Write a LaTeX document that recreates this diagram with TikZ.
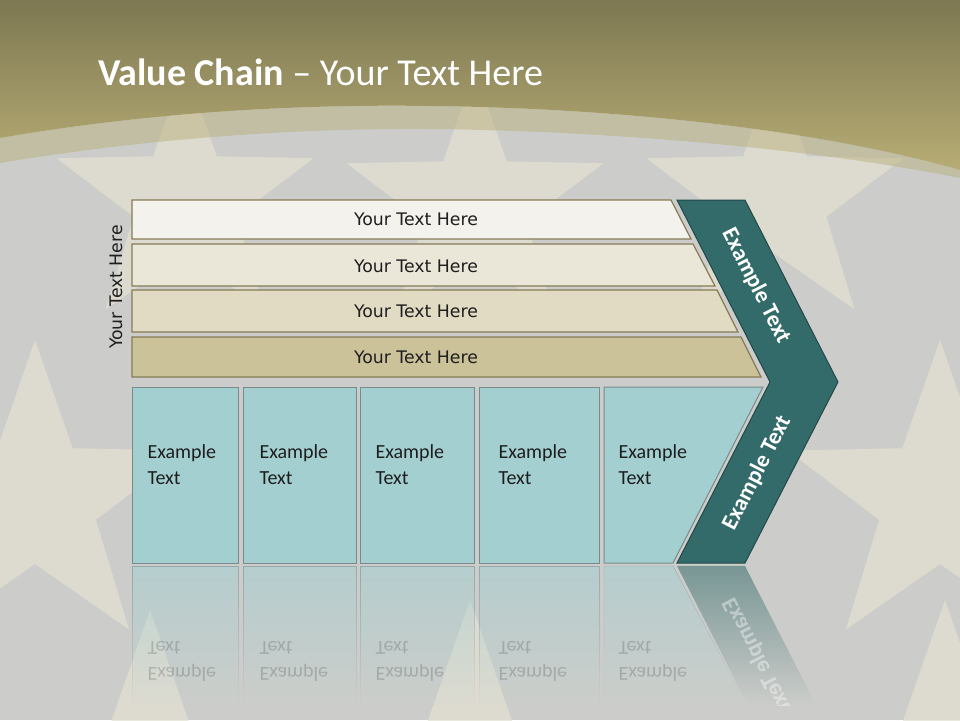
\documentclass[tikz,border=0pt]{standalone}
\usepackage{fontspec}
\setmainfont{Carlito}
\newfontfamily\tah{DejaVu Sans}
\usetikzlibrary{fadings}
\definecolor{bggray}{HTML}{CCCDCA}
\definecolor{starc}{HTML}{E3E1D3}
\definecolor{oliveTop}{HTML}{7D7852}
\definecolor{oliveBot}{HTML}{B7AC74}
\definecolor{barA}{HTML}{F3F2EC}
\definecolor{barB}{HTML}{EBE7D8}
\definecolor{barC}{HTML}{E0DBC2}
\definecolor{barD}{HTML}{CBC29A}
\definecolor{barline}{HTML}{857B55}
\definecolor{boxfill}{HTML}{A3CFD1}
\definecolor{boxline}{HTML}{7A8A8B}
\definecolor{chev}{HTML}{336A6A}
\definecolor{chevline}{HTML}{234848}
\definecolor{darktext}{HTML}{1E1E1E}
\tikzfading[name=reflfade, top color=transparent!45, bottom color=transparent!100]
\newcommand\bgstar[3]{\fill[starc,opacity=0.75,shift={(#1,#2)}] (-90:#3) -- (-54:{0.4*#3}) -- (-18:#3) -- (18:{0.4*#3}) -- (54:#3) -- (90:{0.4*#3}) -- (126:#3) -- (162:{0.4*#3}) -- (198:#3) -- (234:{0.4*#3}) -- cycle;}
\begin{document}
\begin{tikzpicture}[x=1pt,y=-1pt,
  barshape/.style={draw=barline, line width=1.2pt},
  boxshape/.style={fill=boxfill, draw=boxline, line width=1pt},
  bartext/.style={font=\tah\fontsize{17.3}{20}\selectfont, text=darktext},
  boxtext/.style={font=\fontsize{20}{26}\selectfont, text=darktext, align=left, anchor=west},
  chevtext/.style={font=\bfseries\fontsize{23}{25}\selectfont, text=white},
  refltext/.style={font=\fontsize{20}{26}\selectfont, text=darktext, align=left, anchor=west, yscale=-1, opacity=0.2}]
\useasboundingbox (0,0) rectangle (960,720);
% background
\fill[bggray] (0,0) rectangle (960,720);
\bgstar{185}{200}{135}
\bgstar{475}{205}{135}
\bgstar{775}{200}{135}
\bgstar{35}{500}{160}
\bgstar{940}{500}{160}
\bgstar{150}{905}{295}
\bgstar{470}{905}{305}
\bgstar{945}{905}{305}
\shade[top color=oliveTop, bottom color=oliveBot]
  (0,0) -- (960,0) -- (960,170) .. controls (820,130) and (620,108) .. (430,106)
  .. controls (300,104) and (150,112) .. (0,138) -- cycle;
\fill[oliveBot, opacity=0.45]
  (0,138) .. controls (150,112) and (300,104) .. (430,106)
  .. controls (620,108) and (820,130) .. (960,170) -- (960,178)
  .. controls (820,150) and (620,131) .. (430,129)
  .. controls (300,128) and (150,138) .. (0,163) -- cycle;
% title
\node[anchor=base west, text=white, font=\fontsize{38}{40}\selectfont, inner sep=0pt] (title) at (98,85) {\textbf{Value Chain} – Your Text Here};
% bars
\path[barshape, fill=barA] (132,200) -- (671,200) -- (691,239) -- (132,239) -- cycle;
\path[barshape, fill=barB] (132,244) -- (693,244) -- (715,286) -- (132,286) -- cycle;
\path[barshape, fill=barC] (132,290) -- (717,290) -- (738,332) -- (132,332) -- cycle;
\path[barshape, fill=barD] (132,337) -- (741,337) -- (761,377) -- (132,377) -- cycle;
\node[bartext] (b1) at (416,219) {Your Text Here};
\node[bartext] (b2) at (416,266) {Your Text Here};
\node[bartext] (b3) at (416,311) {Your Text Here};
\node[bartext] (b4) at (416,357) {Your Text Here};
\node[bartext, rotate=90] (side) at (116,287) {Your Text Here};
% boxes
\path[boxshape] (132,387) rectangle (238,563);
\path[boxshape] (243,387) rectangle (356,563);
\path[boxshape] (360,387) rectangle (474,563);
\path[boxshape] (479,387) rectangle (599,563);
\path[boxshape] (604,387) -- (763,387) -- (673,563) -- (604,563) -- cycle;
\node[boxtext] (t1) at (144,465) {Example\\Text};
\node[boxtext] (t2) at (256,465) {Example\\Text};
\node[boxtext] (t3) at (372,465) {Example\\Text};
\node[boxtext] (t4) at (495,465) {Example\\Text};
\node[boxtext] (t5) at (615,465) {Example\\Text};
% chevron
\path[fill=chev, draw=chevline, line width=1pt] (677,200) -- (745,200) -- (838,382) -- (745,563) -- (677,563) -- (770,382) -- cycle;
\node[chevtext, rotate=-63] (c1) at (756,286) {Example Text};
\node[chevtext, rotate=63] (c2) at (757,473) {Example Text};
% reflection
\path[fill=boxfill, draw=boxline, path fading=reflfade] (132,566) rectangle (238,705);
\path[fill=boxfill, draw=boxline, path fading=reflfade] (243,566) rectangle (356,705);
\path[fill=boxfill, draw=boxline, path fading=reflfade] (360,566) rectangle (474,705);
\path[fill=boxfill, draw=boxline, path fading=reflfade] (479,566) rectangle (599,705);
\path[fill=boxfill, draw=boxline, path fading=reflfade] (604,566) -- (673,566) -- (747,705) -- (604,705) -- cycle;
\path[fill=chev, path fading=reflfade] (677,566) -- (745,566) -- (816,705) -- (748,705) -- cycle;
\node[refltext] (r1) at (144,661) {Example\\Text};
\node[refltext] (r2) at (256,661) {Example\\Text};
\node[refltext] (r3) at (372,661) {Example\\Text};
\node[refltext] (r4) at (495,661) {Example\\Text};
\node[refltext] (r5) at (615,661) {Example\\Text};
\begin{scope}
\clip (677,566) -- (745,566) -- (816,705) -- (748,705) -- cycle;
\node[chevtext, yscale=-1, rotate=63, opacity=0.4] (rc) at (757,655) {Example Text};
\end{scope}
\end{tikzpicture}
\end{document}
